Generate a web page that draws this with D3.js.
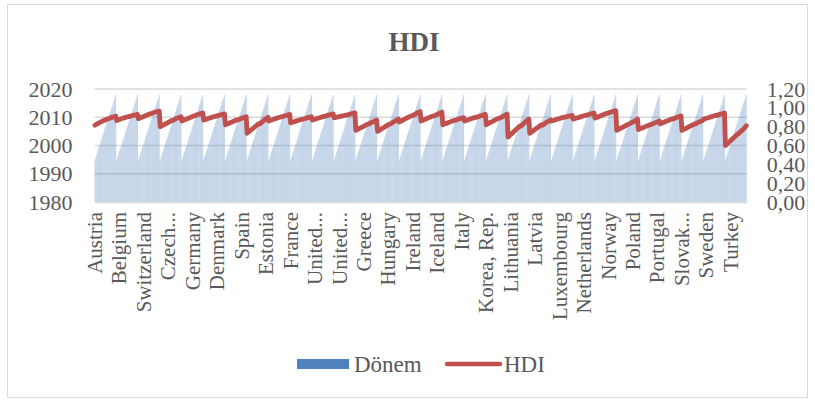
<!DOCTYPE html>
<html><head><meta charset="utf-8">
<script src="https://cdn.jsdelivr.net/npm/d3@7"></script>
<style>
html,body{margin:0;padding:0;background:#fff;}
svg{display:block;font-family:"Liberation Serif","Times New Roman",serif;}
</style></head>
<body><svg id="c" width="815" height="405"></svg>
<script>
const years = [1995,1996,1997,1998,1999,2000,2001,2002,2003,2004,2005,2006,2007,2008,2009,2010,2011,2012,2013,2014,2015,2016,2017,2018];
const countries = ["Austria","Belgium","Switzerland","Czech Republic","Germany","Denmark","Spain","Estonia","Finland","France","United Kingdom","United States","Greece","Hungary","Ireland","Iceland","Italy","Japan","Korea, Rep.","Lithuania","Latvia","Luxembourg","Netherlands","Norway","Poland","Portugal","Slovenia","Slovak Republic","Sweden","Turkey"];
const hdi = [
[0.815,0.821,0.826,0.832,0.838,0.843,0.848,0.853,0.857,0.862,0.866,0.870,0.875,0.879,0.880,0.884,0.890,0.893,0.896,0.899,0.902,0.905,0.908,0.910],
[0.865,0.869,0.873,0.876,0.880,0.884,0.887,0.890,0.893,0.896,0.899,0.902,0.905,0.908,0.908,0.912,0.915,0.917,0.920,0.922,0.924,0.926,0.928,0.930],
[0.885,0.889,0.893,0.897,0.901,0.905,0.909,0.913,0.917,0.921,0.925,0.929,0.933,0.937,0.938,0.942,0.946,0.950,0.953,0.956,0.959,0.961,0.963,0.965],
[0.800,0.806,0.811,0.816,0.820,0.826,0.831,0.836,0.841,0.846,0.851,0.856,0.862,0.867,0.866,0.871,0.877,0.882,0.887,0.891,0.895,0.899,0.902,0.905],
[0.860,0.864,0.868,0.872,0.876,0.880,0.884,0.888,0.892,0.896,0.900,0.905,0.909,0.913,0.914,0.919,0.924,0.928,0.932,0.935,0.938,0.940,0.943,0.945],
[0.870,0.873,0.877,0.880,0.883,0.887,0.890,0.893,0.896,0.899,0.902,0.905,0.908,0.911,0.911,0.915,0.918,0.921,0.924,0.927,0.929,0.931,0.933,0.935],
[0.820,0.825,0.829,0.833,0.837,0.841,0.845,0.849,0.853,0.857,0.861,0.865,0.869,0.872,0.873,0.877,0.881,0.885,0.889,0.893,0.896,0.899,0.902,0.905],
[0.730,0.738,0.746,0.754,0.762,0.770,0.778,0.786,0.794,0.802,0.810,0.818,0.826,0.832,0.830,0.838,0.846,0.854,0.862,0.870,0.878,0.886,0.893,0.900],
[0.860,0.864,0.868,0.871,0.875,0.878,0.882,0.885,0.888,0.891,0.894,0.897,0.900,0.903,0.903,0.907,0.910,0.913,0.916,0.919,0.922,0.925,0.928,0.930],
[0.840,0.843,0.847,0.850,0.853,0.856,0.859,0.862,0.865,0.868,0.871,0.874,0.877,0.880,0.880,0.884,0.887,0.890,0.893,0.896,0.899,0.901,0.903,0.905],
[0.870,0.873,0.876,0.880,0.883,0.886,0.889,0.892,0.895,0.898,0.901,0.904,0.907,0.910,0.910,0.914,0.917,0.920,0.923,0.926,0.929,0.931,0.933,0.935],
[0.895,0.897,0.899,0.901,0.903,0.905,0.907,0.909,0.911,0.913,0.915,0.917,0.920,0.922,0.922,0.925,0.928,0.931,0.934,0.937,0.939,0.941,0.943,0.945],
[0.760,0.766,0.771,0.776,0.781,0.786,0.791,0.796,0.801,0.806,0.811,0.816,0.821,0.826,0.826,0.832,0.837,0.842,0.847,0.852,0.857,0.861,0.866,0.870],
[0.750,0.756,0.762,0.768,0.774,0.780,0.786,0.792,0.798,0.804,0.810,0.816,0.822,0.828,0.828,0.834,0.840,0.846,0.852,0.858,0.864,0.869,0.875,0.880],
[0.850,0.855,0.860,0.865,0.870,0.875,0.880,0.885,0.890,0.895,0.900,0.905,0.910,0.915,0.915,0.921,0.926,0.931,0.936,0.941,0.946,0.951,0.956,0.960],
[0.860,0.864,0.868,0.872,0.876,0.881,0.885,0.889,0.893,0.897,0.901,0.905,0.909,0.913,0.913,0.918,0.922,0.927,0.931,0.936,0.941,0.945,0.950,0.955],
[0.820,0.824,0.828,0.832,0.835,0.839,0.843,0.847,0.850,0.854,0.858,0.861,0.865,0.868,0.868,0.872,0.876,0.879,0.882,0.885,0.888,0.891,0.893,0.895],
[0.860,0.863,0.867,0.870,0.874,0.877,0.881,0.884,0.887,0.890,0.893,0.896,0.899,0.902,0.902,0.906,0.909,0.913,0.916,0.919,0.922,0.925,0.928,0.930],
[0.820,0.826,0.832,0.837,0.842,0.847,0.852,0.857,0.862,0.867,0.872,0.877,0.882,0.886,0.887,0.892,0.897,0.902,0.907,0.912,0.917,0.922,0.929,0.935],
[0.690,0.699,0.708,0.717,0.726,0.735,0.744,0.753,0.762,0.771,0.780,0.789,0.798,0.806,0.804,0.813,0.822,0.831,0.840,0.849,0.857,0.865,0.873,0.880],
[0.730,0.737,0.744,0.751,0.758,0.765,0.772,0.779,0.786,0.793,0.800,0.807,0.814,0.820,0.816,0.822,0.829,0.836,0.843,0.849,0.855,0.860,0.865,0.870],
[0.860,0.863,0.866,0.869,0.872,0.875,0.878,0.881,0.884,0.887,0.890,0.893,0.896,0.899,0.898,0.901,0.904,0.907,0.909,0.911,0.913,0.915,0.918,0.920],
[0.880,0.883,0.886,0.889,0.892,0.895,0.898,0.901,0.904,0.907,0.910,0.913,0.916,0.919,0.920,0.923,0.926,0.929,0.932,0.935,0.938,0.940,0.943,0.945],
[0.890,0.894,0.898,0.902,0.906,0.910,0.914,0.918,0.922,0.926,0.930,0.934,0.938,0.942,0.942,0.946,0.950,0.953,0.956,0.959,0.962,0.965,0.968,0.970],
[0.760,0.766,0.771,0.776,0.781,0.786,0.791,0.796,0.801,0.806,0.811,0.816,0.821,0.826,0.830,0.835,0.840,0.845,0.850,0.855,0.861,0.866,0.873,0.880],
[0.770,0.774,0.778,0.782,0.786,0.790,0.794,0.798,0.802,0.806,0.810,0.814,0.818,0.822,0.823,0.827,0.831,0.835,0.839,0.843,0.847,0.851,0.856,0.860],
[0.830,0.834,0.838,0.842,0.846,0.850,0.854,0.858,0.862,0.866,0.870,0.874,0.878,0.882,0.881,0.885,0.889,0.893,0.897,0.901,0.905,0.908,0.912,0.915],
[0.760,0.765,0.770,0.775,0.780,0.785,0.790,0.795,0.800,0.805,0.810,0.815,0.820,0.825,0.826,0.831,0.836,0.841,0.846,0.850,0.854,0.858,0.862,0.865],
[0.880,0.883,0.886,0.889,0.892,0.895,0.898,0.901,0.904,0.907,0.910,0.913,0.916,0.919,0.918,0.922,0.925,0.928,0.931,0.934,0.937,0.940,0.943,0.945],
[0.600,0.609,0.618,0.627,0.636,0.645,0.654,0.663,0.672,0.681,0.690,0.699,0.708,0.717,0.722,0.731,0.740,0.749,0.758,0.767,0.776,0.785,0.798,0.810]
];
const tickLabels = ["Austria","Belgium","Switzerland","Czech...","Germany","Denmark","Spain","Estonia","France","United...","United...","Greece","Hungary","Ireland","Iceland","Italy","Korea, Rep.","Lithuania","Latvia","Luxembourg","Netherlands","Norway","Poland","Portugal","Slovak...","Sweden","Turkey"];
const labelInterval = 27;
const leftTicks = [1980,1990,2000,2010,2020];
const rightTicks = [0,0.2,0.4,0.6,0.8,1.0,1.2];
const title = "HDI";
const seriesNames = ["Dönem","HDI"];

const rows = [];
countries.forEach((c, ci) => years.forEach((y, yi) => rows.push({i: rows.length, country: c, donem: y, hdi: hdi[ci][yi]})));

const svg = d3.select("#c");
const textCol = "#595959", gridCol = "#d9d9d9";
const X0 = 94.5, X1 = 746.7, YT = 89, YB = 202;

svg.append("rect").attr("x",7.5).attr("y",4.5).attr("width",800).attr("height",393)
  .attr("fill","#fff").attr("stroke",gridCol).attr("stroke-width",1);

const x = d3.scaleBand().domain(rows.map(d => d.i)).range([X0, X1]).padding(0);
const yL = d3.scaleLinear().domain([1980,2020]).range([YB, YT]);
const yR = d3.scaleLinear().domain([0,1.2]).range([YB, YT]);

svg.append("g").selectAll("line").data(leftTicks.slice(1)).join("line")
  .attr("x1",X0).attr("x2",X1).attr("y1",d=>yL(d)).attr("y2",d=>yL(d))
  .attr("stroke",gridCol).attr("stroke-width",1.3);

svg.append("g").selectAll("rect").data(rows).join("rect")
  .attr("x", d => x(d.i)).attr("width", x.bandwidth())
  .attr("y", d => yL(d.donem)).attr("height", d => YB - yL(d.donem))
  .attr("fill","#4F81BD").attr("fill-opacity",0.33);

const xAxis = d3.axisBottom(x)
  .tickValues(tickLabels.map((t,k) => k*labelInterval))
  .tickFormat(i => tickLabels[i/labelInterval])
  .tickSize(0);
const gx = svg.append("g").attr("transform",`translate(0,${YB})`).call(xAxis);
gx.select(".domain").attr("stroke",gridCol).attr("stroke-width",1.3);
gx.selectAll("text")
  .attr("transform","rotate(-90)")
  .attr("x",-10).attr("y",0).attr("dy","0.33em")
  .attr("text-anchor","end")
  .attr("fill",textCol).style("font-size","21px").style("font-family","Liberation Serif");

const gl = svg.append("g").attr("transform",`translate(${X0},0)`)
  .call(d3.axisLeft(yL).tickValues(leftTicks).tickFormat(d3.format("d")).tickSize(0).tickPadding(22));
gl.select(".domain").remove();
gl.selectAll("text").attr("fill",textCol).style("font-size","22px").style("font-family","Liberation Serif");

const gr = svg.append("g").attr("transform",`translate(${X1},0)`)
  .call(d3.axisRight(yR).tickValues(rightTicks).tickFormat(d => d.toFixed(2).replace(".",",")).tickSize(0).tickPadding(20));
gr.select(".domain").remove();
gr.selectAll("text").attr("fill",textCol).style("font-size","22px").style("font-family","Liberation Serif");

const line = d3.line().x(d => x(d.i) + x.bandwidth()/2).y(d => yR(d.hdi));
svg.append("path").datum(rows).attr("d", line)
  .attr("fill","none").attr("stroke","#C0504D").attr("stroke-width",4.8)
  .attr("stroke-linejoin","round").attr("stroke-linecap","round");

svg.append("text").attr("x",414).attr("y",51).attr("text-anchor","middle")
  .attr("fill",textCol).style("font-size","27px").style("font-weight","bold").text(title);

const lg = svg.append("g");
lg.append("rect").attr("x",297).attr("y",359).attr("width",52).attr("height",10).attr("fill","#4F81BD");
lg.append("text").attr("x",354).attr("y",372).attr("fill",textCol).style("font-size","23px").text(seriesNames[0]);
lg.append("line").attr("x1",447).attr("x2",500).attr("y1",364).attr("y2",364)
  .attr("stroke","#C0504D").attr("stroke-width",4.5).attr("stroke-linecap","round");
lg.append("text").attr("x",504).attr("y",372).attr("fill",textCol).style("font-size","23px").text(seriesNames[1]);
</script></body></html>
